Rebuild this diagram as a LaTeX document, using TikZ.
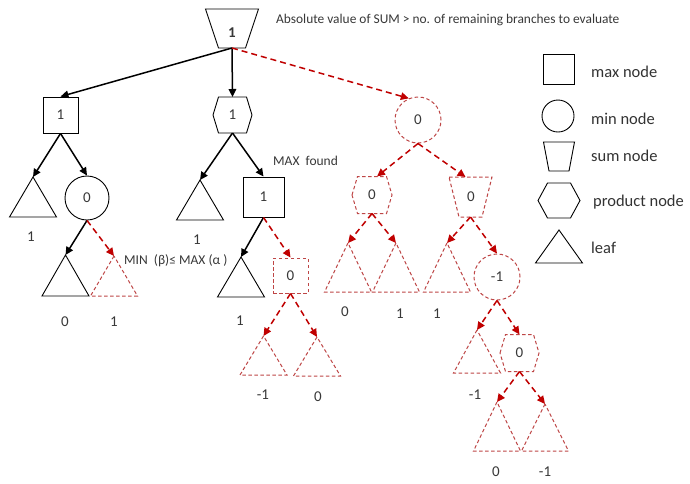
\documentclass[tikz,border=0pt]{standalone}
\usepackage{fontspec}
\setmainfont{Carlito}
\usetikzlibrary{arrows.meta}
\definecolor{rarrow}{RGB}{192,0,0}
\definecolor{rshape}{RGB}{190,70,70}
\newcommand\leafat[5]{\coordinate (#1) at (#2,#3);
  \draw[#5] (#1) -- ++(-23.5,#4) -- ++(47,0) -- cycle;}
\newcommand\hexat[7]{\begin{scope}[shift={(#2,#3)}]
  \draw[#7] (-#4,0) -- (-#4+#6,-#5) -- (#4-#6,-#5) -- (#4,0) -- (#4-#6,#5) -- (-#4+#6,#5) -- cycle;
  \end{scope}
  \coordinate (#1T) at (#2,#3-#5); \coordinate (#1B) at (#2,#3+#5);}
\newcommand\trapat[7]{\begin{scope}[shift={(#2,#3)}]
  \draw[#7] (-#4,-#6) -- (#4,-#6) -- (#5,#6) -- (-#5,#6) -- cycle;
  \end{scope}
  \coordinate (#1T) at (#2,#3-#6); \coordinate (#1B) at (#2,#3+#6);}
\begin{document}
\begin{tikzpicture}[x=1pt,y=-1pt,
  solid shape/.style={draw=black, line width=0.9pt},
  red shape/.style={draw=rshape, line width=1pt, dash pattern=on 3.5pt off 2.5pt},
  arr/.style={line width=1.5pt, -{Triangle[length=8pt,width=7.5pt]}},
  rarr/.style={arr, draw=rarrow, color=rarrow, dash pattern=on 6pt off 4pt},
  num/.style={font=\fontsize{15}{17}\selectfont, inner sep=0pt, text=black!78},
  note/.style={font=\fontsize{13.5}{15}\selectfont, inner sep=0pt, anchor=west, text=black!78},
  legtxt/.style={font=\fontsize{16.5}{19}\selectfont, inner sep=0pt, anchor=west, text=black!80}]
\useasboundingbox (0,0) rectangle (690,483);
\fill[white] (0,0) rectangle (690,483);

% root sum node
\trapat{root}{232}{28.5}{26.5}{13.5}{19.5}{solid shape}
\node[num] (rootlbl) at (232,33) {\textbf{1}};
\node[note, font=\fontsize{13.4}{15}\selectfont] (title) at (276,20) {Absolute value of SUM > no. of remaining branches to evaluate};

% level 1
\node[solid shape, rectangle, minimum width=35pt, minimum height=36pt, num, inner sep=0pt] (A) at (60.5,115) {1};
\hexat{B}{232.5}{115}{19.5}{18}{5.5}{solid shape}
\node[num] (Blbl) at (232.5,115) {1};
\node[red shape, circle, minimum size=46pt, num] (C) at (418,120) {0};

\draw[arr] (rootB) -- (A.north);
\draw[arr] (rootB) -- (BT);
\draw[rarr] (rootB) -- (C.113);

% left subtree
\leafat{A1}{33}{177}{40}{solid shape}
\node[num] (A1l) at (31,237) {1};
\node[solid shape, circle, minimum size=44pt, num] (A2) at (87,198) {0};
\draw[arr] (A.south) -- (A1);
\draw[arr] (A.south) -- (A2.north);
\leafat{A21}{65.5}{255}{41}{solid shape}
\node[num] (A21l) at (65,322) {0};
\leafat{A22}{114}{256}{40}{red shape}
\node[num] (A22l) at (114,322) {1};
\draw[arr] (A2.south) -- (A21);
\draw[rarr] (A2.south) -- (A22);
\node[note] (minlbl) at (124,261) {MIN\ \ (β)≤ MAX (α )};

% middle subtree
\leafat{B1}{200}{180}{40}{solid shape}
\node[num] (B1l) at (197,240) {1};
\node[solid shape, rectangle, minimum width=41pt, minimum height=40pt, num] (B2) at (263.5,197) {1};
\draw[arr] (BB) -- (B1);
\draw[arr] (BB) -- (B2.north);
\node[note] (maxlbl) at (273,161) {MAX\ \ found};
\leafat{B21}{241}{257}{40}{solid shape}
\node[num] (B21l) at (240,321) {1};
\node[red shape, rectangle, minimum width=35pt, minimum height=35pt, num] (B22) at (290.5,275.5) {0};
\draw[arr] (B2.south) -- (B21);
\draw[rarr] (B2.south) -- (B22.north);
\leafat{B221}{263.5}{336}{39}{red shape}
\node[num] (B221l) at (263,395) {-1};
\leafat{B222}{317}{337}{39}{red shape}
\node[num] (B222l) at (318,397) {0};
\draw[rarr] (B22.south) -- (B221);
\draw[rarr] (B22.south) -- (B222);

% right subtree
\hexat{C1}{372}{195}{20}{18.5}{5.5}{red shape}
\node[num] (C1l) at (372,195) {0};
\trapat{C2}{470.5}{197}{21.5}{11.5}{20}{red shape}
\node[num] (C2l) at (471,197) {0};
\draw[rarr] (C.south) -- ([xshift=5pt]C1T);
\draw[rarr] (C.south) -- ([xshift=-5pt]C2T);
\leafat{C11}{348}{243}{49}{red shape}
\node[num] (C11l) at (345,312) {0};
\leafat{C12}{396}{243}{49}{red shape}
\node[num] (C12l) at (400,314) {1};
\draw[rarr] (C1B) -- (C11);
\draw[rarr] (C1B) -- (C12);
\leafat{C21}{447}{243}{49}{red shape}
\node[num] (C21l) at (437,314) {1};
\node[red shape, circle, minimum size=46pt, num] (C22) at (497,277) {-1};
\draw[rarr] (C2B) -- (C21);
\draw[rarr] (C2B) -- (C22.north);
\leafat{C221}{477}{330}{43}{red shape}
\node[num] (C221l) at (475,395) {-1};
\hexat{C222}{519.5}{353}{19.5}{18.5}{5.5}{red shape}
\node[num] (C222l) at (519.5,353) {0};
\draw[rarr] (C22.south) -- (C221);
\draw[rarr] (C22.south) -- (C222T);
\leafat{C2221}{497}{402}{49}{red shape}
\node[num] (C2221l) at (496,472) {0};
\leafat{C2222}{545}{404}{47}{red shape}
\node[num] (C2222l) at (545,472) {-1};
\draw[rarr] (C222B) -- (C2221);
\draw[rarr] (C222B) -- (C2222);

% legend
\node[solid shape, rectangle, minimum width=31pt, minimum height=30pt, inner sep=0pt] (LA) at (558.5,69) {};
\node[legtxt] (LAt) at (591,72) {max node};
\node[solid shape, circle, minimum size=32pt, inner sep=0pt] (LB) at (558,116) {};
\node[legtxt] (LBt) at (591,119) {min node};
\trapat{LC}{559}{156.5}{15.5}{10}{14.5}{solid shape}
\node[legtxt] (LCt) at (591,156) {sum node};
\hexat{LD}{559}{200.5}{21}{17.5}{9.5}{solid shape}
\node[legtxt] (LDt) at (593,202) {product node};
\leafat{LE}{559}{230}{33}{solid shape}
\node[legtxt] (LEt) at (591,248) {leaf};
\end{tikzpicture}
\end{document}
